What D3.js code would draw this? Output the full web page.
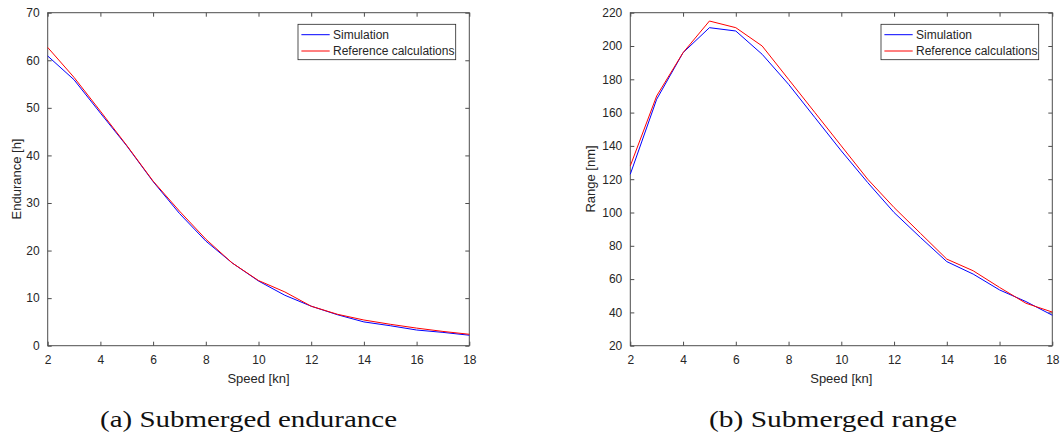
<!DOCTYPE html>
<html>
<head>
<meta charset="utf-8">
<script src="https://cdn.jsdelivr.net/npm/d3@7"></script>
<style>
  body { margin: 0; background: #fff; }
  text { font-family: "Liberation Sans", Arial, sans-serif; fill: #262626; }
  .caption { font-family: "Liberation Serif", "DejaVu Serif", serif; fill: #111; }
</style>
</head>
<body>
<svg width="1063" height="436"></svg>
<script>
// data
let speeds = [2, 3, 4, 5, 6, 7, 8, 9, 10, 11, 12, 13, 14, 15, 16, 17, 18];
let enduranceSim = [60.9, 55.9, 48.9, 42.0, 34.5, 27.8, 22.0, 17.4, 13.6, 10.6, 8.3, 6.5, 5.0, 4.2, 3.3, 2.8, 2.2];
let enduranceRef = [62.7, 56.4, 49.3, 42.1, 34.6, 28.3, 22.4, 17.4, 13.7, 11.3, 8.3, 6.6, 5.4, 4.5, 3.7, 3.0, 2.4];
let rangeSim = [123, 168, 196, 211, 209, 195, 177, 157, 137, 118, 100, 85, 70.5, 63, 53.5, 46.5, 38.3];
let rangeRef = [128, 170, 196, 215, 211, 200, 180, 160, 140, 120, 103, 87.5, 72, 65, 55, 45.5, 40.2];
let xTicks = [2, 4, 6, 8, 10, 12, 14, 16, 18];
let endTicks = [0, 10, 20, 30, 40, 50, 60, 70];
let rangeTicks = [20, 40, 60, 80, 100, 120, 140, 160, 180, 200, 220];
let seriesNames = ['Simulation', 'Reference calculations'];
let seriesColors = ['#0000ff', '#ff0000'];

let svg = d3.select('svg');

let drawPanel = (opt) => {
    let x = d3.scaleLinear().domain([2, 18]).range([opt.left, opt.right]);
    let y = d3.scaleLinear().domain(opt.yDomain).range([345.7, 12.7]);
    let g = svg.append('g');
    let axisColor = '#4d4d4d';

    // box
    g.append('rect')
        .attr('x', opt.left).attr('y', 12.7)
        .attr('width', opt.right - opt.left).attr('height', 333)
        .attr('fill', 'none').attr('stroke', axisColor).attr('stroke-width', 1);

    let style = sel => {
        sel.select('.domain').remove();
        sel.selectAll('.tick line').attr('stroke', axisColor);
        sel.selectAll('.tick text').attr('font-size', 12).attr('fill', '#262626')
            .attr('font-family', '"Liberation Sans", Arial, sans-serif');
    };

    g.append('g').attr('transform', 'translate(0,345.7)')
        .call(d3.axisBottom(x).tickValues(xTicks).tickSizeInner(-4).tickPadding(10).tickFormat(d3.format('d')))
        .call(style);
    g.append('g').attr('transform', 'translate(0,12.7)')
        .call(d3.axisTop(x).tickValues(xTicks).tickSizeInner(-4).tickFormat(''))
        .call(style);
    g.append('g').attr('transform', `translate(${opt.left},0)`)
        .call(d3.axisLeft(y).tickValues(opt.yTicks).tickSizeInner(-4).tickPadding(8).tickFormat(d3.format('d')))
        .call(style);
    g.append('g').attr('transform', `translate(${opt.right},0)`)
        .call(d3.axisRight(y).tickValues(opt.yTicks).tickSizeInner(-4).tickFormat(''))
        .call(style);

    // lines
    let line = d3.line().x((d, i) => x(speeds[i])).y(d => y(d));
    [opt.sim, opt.ref].forEach((s, k) => {
        g.append('path').datum(s)
            .attr('d', line)
            .attr('fill', 'none')
            .attr('stroke', seriesColors[k])
            .attr('stroke-width', 1);
    });

    // axis labels
    g.append('text')
        .attr('x', (opt.left + opt.right) / 2).attr('y', 383)
        .attr('text-anchor', 'middle').attr('font-size', 13)
        .text('Speed [kn]');
    g.append('text')
        .attr('transform', `translate(${opt.yLabelX},${179}) rotate(-90)`)
        .attr('text-anchor', 'middle').attr('font-size', 13)
        .text(opt.yLabel);

    // legend
    let lx = opt.right - 171.3, ly = 24.3;
    let lg = g.append('g').attr('transform', `translate(${lx},${ly})`);
    lg.append('rect').attr('width', 157.7).attr('height', 35.4)
        .attr('fill', '#fff').attr('stroke', '#262626').attr('stroke-width', 0.8);
    seriesNames.forEach((name, k) => {
        let ry = 10.4 + k * 16.3;
        lg.append('line').attr('x1', 3.4).attr('x2', 31.7).attr('y1', ry).attr('y2', ry)
            .attr('stroke', seriesColors[k]).attr('stroke-width', 1);
        lg.append('text').attr('x', 35).attr('y', ry + 4.2).attr('font-size', 12).attr('fill', '#000')
            .text(name);
    });

    // caption
    svg.append('text').attr('class', 'caption')
        .attr('x', opt.capX).attr('y', 427)
        .attr('font-size', 24)
        .attr('textLength', opt.capW).attr('lengthAdjust', 'spacingAndGlyphs')
        .text(opt.caption);
};

drawPanel({
    left: 47.7, right: 469.3, yDomain: [0, 70], yTicks: endTicks,
    sim: enduranceSim, ref: enduranceRef, yLabel: 'Endurance [h]', yLabelX: 20.5,
    caption: '(a) Submerged endurance', capX: 100, capW: 297
});
drawPanel({
    left: 630.3, right: 1052.3, yDomain: [20, 220], yTicks: rangeTicks,
    sim: rangeSim, ref: rangeRef, yLabel: 'Range [nm]', yLabelX: 594.5,
    caption: '(b) Submerged range', capX: 709, capW: 248
});
</script>
</body>
</html>
